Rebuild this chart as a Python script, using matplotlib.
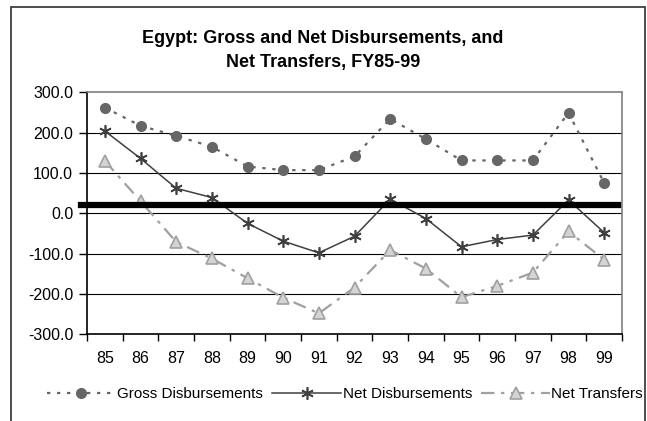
import matplotlib.pyplot as plt
from matplotlib.patches import Rectangle

# Values (US$ millions)
years = ['85', '86', '87', '88', '89', '90', '91', '92', '93', '94', '95', '96', '97', '98', '99']
gross = [262, 217, 192, 165, 116, 107, 107, 141, 234, 184, 131, 131, 131, 249, 75]
net = [204, 136, 62, 39, -25, -69, -98, -57, 35, -13, -83, -65, -54, 33, -48]
transfers = [130, 30, -71, -112, -161, -209, -248, -184, -91, -137, -208, -180, -147, -45, -115]
marker_line = 20  # the heavy black bar drawn across the chart
yticks = [300, 200, 100, 0, -100, -200, -300]

plt.rcParams['font.family'] = ['Liberation Sans', 'DejaVu Sans']

fig = plt.figure(figsize=(6.47, 4.21), dpi=100)
ax = fig.add_axes([0.1345, 0.2059, 0.8269, 0.5749])

# outer chart frame (bottom edge falls outside the picture)
fig.patches.append(Rectangle((11 / 647, -0.1), (645 - 11) / 647, 1.1 - 7 / 421,
                             transform=fig.transFigure, fill=False,
                             edgecolor='#303030', linewidth=1.2))

x = range(len(years))

for v in yticks[1:-1]:
    ax.axhline(v, color='black', linewidth=0.8, zorder=1)

ax.plot(x, gross, color='#666666', linestyle=(0, (1.5, 3)), linewidth=1.6,
        marker='o', markersize=7, markerfacecolor='#666666', markeredgecolor='#666666',
        label='Gross Disbursements', zorder=3)
ax.plot(x, net, color='#404040', linestyle='-', linewidth=1.1,
        marker=(6, 2, 0), markersize=9, markeredgewidth=1.2, markeredgecolor='#404040',
        label='Net Disbursements', zorder=4)
ax.plot(x, transfers, color='#a0a0a0', linestyle=(0, (6, 3, 1.5, 3)), linewidth=1.6,
        marker='^', markersize=8, markerfacecolor='#d4d4d4', markeredgecolor='#a0a0a0',
        markeredgewidth=1.2, label='Net Transfers', zorder=3)

ax.axhline(marker_line, xmin=-0.011, xmax=0.9925, color='black', linewidth=4.5,
           clip_on=False, zorder=5)

ax.set_xlim(-0.5, len(years) - 0.5)
ax.set_ylim(-300, 300)
ax.set_yticks(yticks)
ax.set_yticklabels([f'{v:.1f}' for v in yticks], fontsize=11.5)
ax.set_xticks([i + 0.5 for i in range(-1, len(years))], minor=False)
ax.set_xticklabels([])
ax.set_xticks(list(x), minor=True)
ax.set_xticklabels(years, minor=True, fontsize=11.5)
ax.tick_params(axis='x', which='minor', length=0, pad=12)
ax.tick_params(axis='x', which='major', direction='out', length=5, width=1, color='black')
ax.tick_params(axis='y', direction='out', length=6, width=1, pad=4)

for side in ['top', 'right']:
    ax.spines[side].set_color('#808080')
    ax.spines[side].set_linewidth(1.2)
ax.spines['left'].set_linewidth(1.2)
ax.spines['bottom'].set_linewidth(1.2)

fig.text(0.499, 0.880, 'Egypt: Gross and Net Disbursements, and\nNet Transfers, FY85-99',
         ha='center', va='center', fontsize=13, fontweight='bold', linespacing=1.55)

fig.legend(loc='center left', bbox_to_anchor=(47 / 647, 0.064), ncol=3, frameon=False,
           fontsize=11, handlelength=4.5, columnspacing=0.6, handletextpad=0.1,
           borderpad=0, borderaxespad=0)

fig.savefig('out.png', dpi=100)
